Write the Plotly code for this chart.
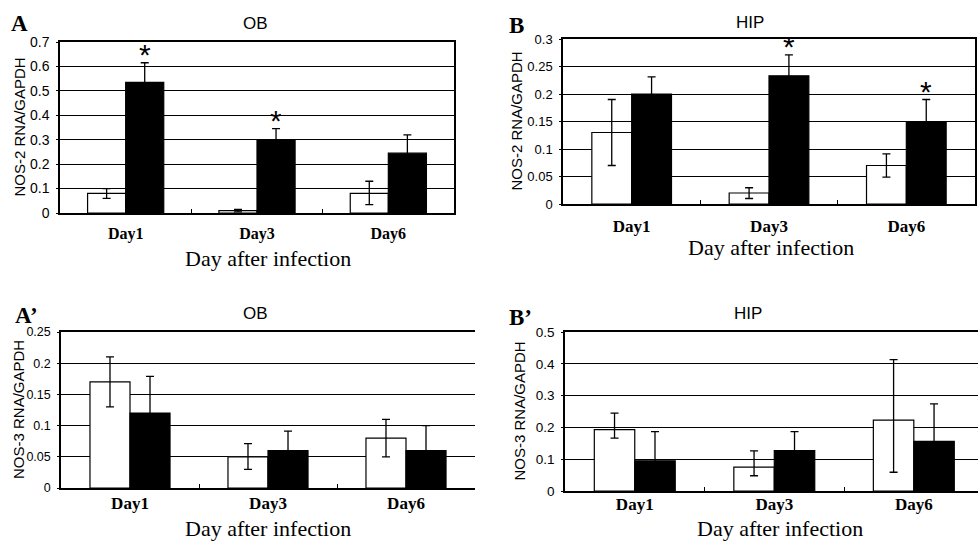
import plotly.graph_objects as go

days = ["Day1", "Day3", "Day6"]

# Panel A: NOS-2 RNA/GAPDH, OB
a_white = [0.08, 0.01, 0.08]
a_white_plus = [0.02, 0.005, 0.05]
a_white_minus = [0.02, 0.005, 0.046]
a_black = [0.535, 0.30, 0.245]
a_black_err = [0.08, 0.045, 0.075]
a_star = [True, True, False]

# Panel B: NOS-2 RNA/GAPDH, HIP
b_white = [0.13, 0.02, 0.07]
b_white_plus = [0.06, 0.0095, 0.021]
b_white_minus = [0.06, 0.01, 0.021]
b_black = [0.20, 0.233, 0.15]
b_black_err = [0.031, 0.038, 0.04]
b_star = [False, True, True]

# Panel A': NOS-3 RNA/GAPDH, OB
a3_white = [0.17, 0.05, 0.08]
a3_white_plus = [0.04, 0.021, 0.03]
a3_white_minus = [0.04, 0.02, 0.03]
a3_black = [0.12, 0.06, 0.06]
a3_black_err = [0.059, 0.031, 0.04]
a3_star = [False, False, False]

# Panel B': NOS-3 RNA/GAPDH, HIP
b3_white = [0.193, 0.075, 0.223]
b3_white_plus = [0.052, 0.051, 0.19]
b3_white_minus = [0.027, 0.027, 0.164]
b3_black = [0.095, 0.127, 0.156]
b3_black_err = [0.092, 0.06, 0.118]
b3_star = [False, False, False]

panel_letters = ["A", "B", "A\u2019", "B\u2019"]
panel_titles = ["OB", "HIP", "OB", "HIP"]
y_titles = ["NOS-2 RNA/GAPDH", "NOS-2 RNA/GAPDH", "NOS-3 RNA/GAPDH", "NOS-3 RNA/GAPDH"]
x_title = "Day after infection"
y_max = [0.7, 0.3, 0.25, 0.5]
y_step = [0.1, 0.05, 0.05, 0.1]

W, H = 978, 543
BARGAP = 0.42

# layout geometry in pixels: (left, right, top, bottom)
boxes = [(60, 454, 42, 213), (563, 975, 39, 204), (61, 475, 332, 488), (565, 978, 332, 491)]
x_range_right = [2.5, 2.5, 2.5, 2.46]
right_border = [True, True, False, False]
tick_size = [14, 13, 12.5, 13.5]
day_size = [16, 17, 17, 17]
day_standoff = [5, 6, -1, -3]
title_size = [17, 17, 17, 17]
letter_pos = [(19, 23), (516, 26), (26, 315), (520, 317)]
title_pos = [(255, 23), (750, 22), (255, 313), (748, 313)]
ytitle_x = [19, 516, 18, 519]
xtitle_pos = [(268, 258), (771, 248), (268, 528), (780, 528)]

data = [
    (a_white, a_white_plus, a_white_minus, a_black, a_black_err, a_star),
    (b_white, b_white_plus, b_white_minus, b_black, b_black_err, b_star),
    (a3_white, a3_white_plus, a3_white_minus, a3_black, a3_black_err, a3_star),
    (b3_white, b3_white_plus, b3_white_minus, b3_black, b3_black_err, b3_star),
]

fig = go.Figure()
annotations = []
SANS = "Liberation Sans, Arial, sans-serif"
SERIF = "Liberation Serif, Times New Roman, serif"

for i, (w, wp, wm, b, be, st) in enumerate(data):
    n = "" if i == 0 else str(i + 1)
    xa, ya = "x" + n, "y" + n
    fig.add_trace(go.Bar(
        x=days, y=w, xaxis=xa, yaxis=ya, offsetgroup="w",
        marker=dict(color="white", line=dict(color="black", width=1.2)),
        error_y=dict(type="data", array=wp, arrayminus=wm, symmetric=False,
                     color="black", thickness=1.3, width=4),
        showlegend=False, hoverinfo="skip"))
    fig.add_trace(go.Bar(
        x=days, y=b, xaxis=xa, yaxis=ya, offsetgroup="b",
        marker=dict(color="black", line=dict(color="black", width=1.2)),
        error_y=dict(type="data", array=be, color="black", thickness=1.3, width=4),
        showlegend=False, hoverinfo="skip"))

    L, R, T, B = boxes[i]
    xdom = [L / W, min(R / W, 1.0)]
    ydom = [1 - B / H, 1 - T / H]
    fig.layout["xaxis" + n] = dict(
        domain=xdom, anchor=ya, type="category", range=[-0.5, x_range_right[i]],
        showline=True, linecolor="black", linewidth=1.5, mirror=True,
        ticks="inside", tickson="boundaries", ticklen=4, tickcolor="black", tickwidth=1,
        tickfont=dict(family=SERIF, size=day_size[i], color="black", weight="bold"),
        ticklabelstandoff=day_standoff[i], showgrid=False, zeroline=False,
        automargin=False)
    fig.layout["yaxis" + n] = dict(
        domain=ydom, anchor=xa, range=[0, y_max[i]], dtick=y_step[i], tick0=0,
        showline=True, linecolor="black", linewidth=1.5, mirror=right_border[i],
        ticks="outside", ticklen=2, tickcolor="black",
        tickfont=dict(family=SANS, size=tick_size[i], color="black"),
        ticklabelstandoff=4, automargin=False,
        showgrid=True, gridcolor="#000000", gridwidth=1.4, zeroline=False)

    # asterisks above significant black bars
    off = (1 - BARGAP) / 4
    for k, s in enumerate(st):
        if s:
            annotations.append(dict(
                x=k + off, y=b[k] + be[k], xref=xa, yref=ya, text="*",
                showarrow=False, yanchor="bottom", yshift=-10,
                font=dict(family=SANS, size=30, color="black")))

    lx, ly = letter_pos[i]
    annotations.append(dict(x=lx / W, y=1 - ly / H, xref="paper", yref="paper",
                            text="<b>" + panel_letters[i] + "</b>", showarrow=False,
                            xanchor="center", yanchor="middle",
                            font=dict(family=SERIF, size=23, color="black")))
    tx, ty = title_pos[i]
    annotations.append(dict(x=tx / W, y=1 - ty / H, xref="paper", yref="paper",
                            text=panel_titles[i], showarrow=False,
                            xanchor="center", yanchor="middle",
                            font=dict(family=SANS, size=title_size[i], color="black")))
    annotations.append(dict(x=ytitle_x[i] / W, y=1 - (T + B) / 2 / H, xref="paper", yref="paper",
                            text=y_titles[i], showarrow=False, textangle=-90,
                            xanchor="center", yanchor="middle",
                            font=dict(family=SANS, size=15, color="black")))
    xx, xy = xtitle_pos[i]
    annotations.append(dict(x=xx / W, y=1 - xy / H, xref="paper", yref="paper",
                            text=x_title, showarrow=False,
                            xanchor="center", yanchor="middle",
                            font=dict(family=SERIF, size=22, color="black")))

fig.update_layout(
    width=W, height=H, margin=dict(l=0, r=0, t=0, b=0, pad=0, autoexpand=False),
    paper_bgcolor="white", plot_bgcolor="white",
    barmode="group", bargap=BARGAP, bargroupgap=0,
    annotations=annotations, showlegend=False)

fix_page = (
    "var h=document.documentElement, b=document.body;"
    "h.style.margin='0';h.style.overflow='hidden';b.style.margin='0';b.style.overflow='hidden';"
)
fig.write_html("out.html", config={"displayModeBar": False}, post_script=fix_page)
